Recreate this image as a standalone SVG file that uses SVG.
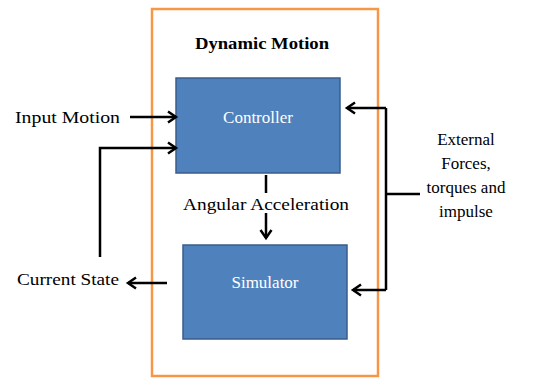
<svg xmlns="http://www.w3.org/2000/svg" width="536" height="380" viewBox="0 0 536 380">
<style>
text{font-family:'Liberation Serif','Times New Roman',serif;font-size:17px;fill:#000}
.w{fill:#fff}
.b{font-weight:bold}
.box{fill:#4F81BD;stroke:#385D8A;stroke-width:1.5}
.c{fill:none;stroke:#000;stroke-width:2.5}
</style>
<defs>
<marker id="a" viewBox="0 0 12 12" refX="11" refY="6" markerWidth="12" markerHeight="12" markerUnits="userSpaceOnUse" orient="auto" overflow="visible">
<path d="M3,0.5 L11,6 L3,11.5" fill="none" stroke="#000" stroke-width="2.5"/>
</marker>
</defs>
<rect x="0" y="0" width="536" height="380" fill="#fff"/>
<g id="frame">
<rect x="152" y="9" width="226" height="367" fill="none" stroke="#F79646" stroke-width="2.5"/>
<text class="b" x="262" y="49" text-anchor="middle" textLength="134" lengthAdjust="spacingAndGlyphs">Dynamic Motion</text>
</g>
<g id="controller">
<rect class="box" x="176" y="78" width="164" height="95"/>
<text class="w" x="258" y="123" text-anchor="middle">Controller</text>
</g>
<g id="simulator">
<rect class="box" x="183" y="245" width="164" height="94"/>
<text class="w" x="265" y="288" text-anchor="middle">Simulator</text>
</g>
<g id="labels">
<text x="15" y="123" textLength="105" lengthAdjust="spacingAndGlyphs">Input Motion</text>
<text x="17" y="285" textLength="102" lengthAdjust="spacingAndGlyphs">Current State</text>
<text x="266" y="210" text-anchor="middle" textLength="166" lengthAdjust="spacingAndGlyphs">Angular Acceleration</text>
<text x="466" y="145" text-anchor="middle">External</text>
<text x="466" y="169" text-anchor="middle">Forces,</text>
<text x="466" y="193" text-anchor="middle">torques and</text>
<text x="466" y="217" text-anchor="middle">impulse</text>
</g>
<g id="connectors">
<line class="c" x1="130" y1="117" x2="176" y2="117" marker-end="url(#a)"/>
<polyline class="c" points="100,257 100,148 176,148" marker-end="url(#a)"/>
<line class="c" x1="167" y1="283" x2="128" y2="283" marker-end="url(#a)"/>
<line class="c" x1="266" y1="175" x2="266" y2="193"/>
<line class="c" x1="266" y1="213" x2="266" y2="238" marker-end="url(#a)"/>
<polyline class="c" points="420,194 386,194"/>
<polyline class="c" points="386,108 386,290"/>
<line class="c" x1="386" y1="108" x2="347" y2="108" marker-end="url(#a)"/>
<line class="c" x1="386" y1="290" x2="353" y2="290" marker-end="url(#a)"/>
</g>
</svg>
